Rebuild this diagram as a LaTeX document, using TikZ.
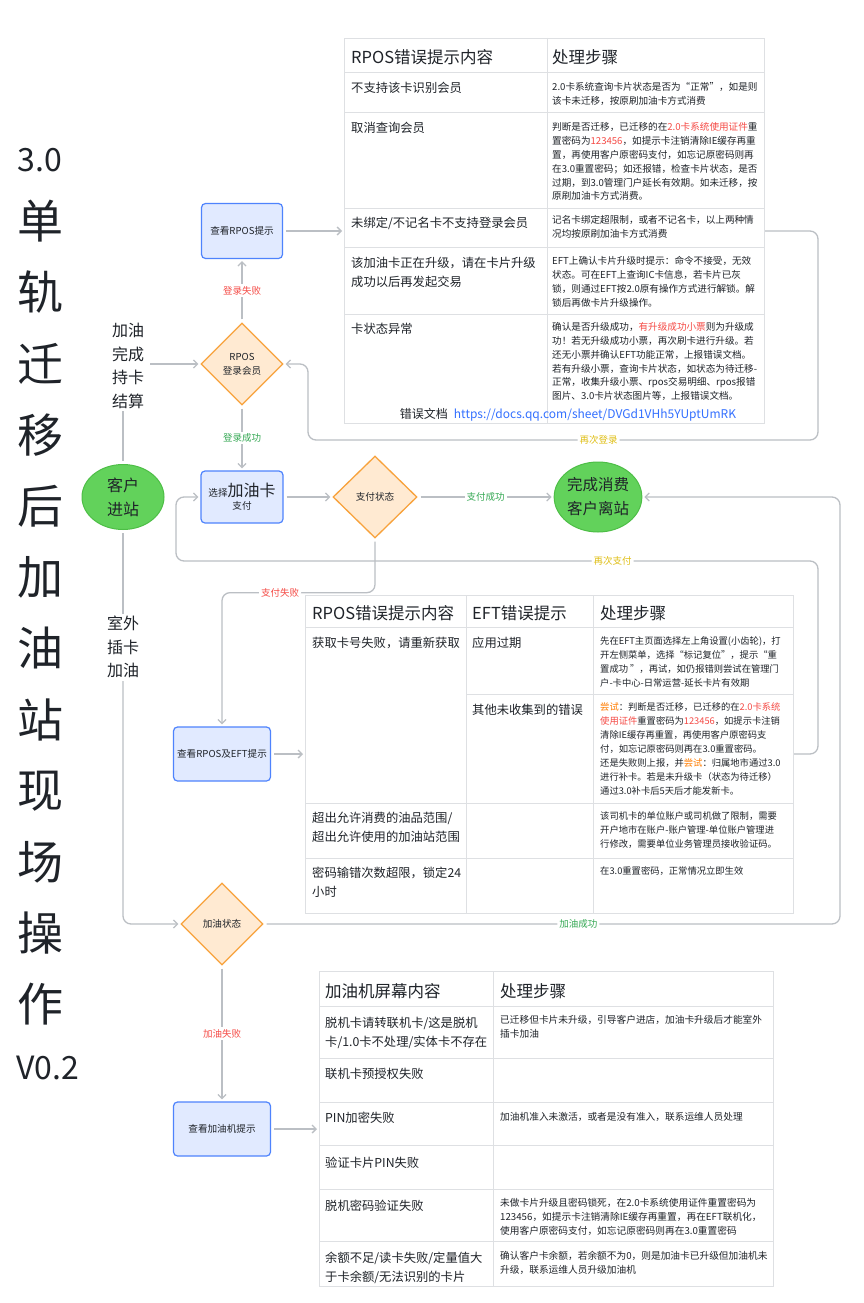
\documentclass[tikz,border=0pt]{standalone}
\usepackage{fontspec}
\setmainfont{Noto Sans CJK SC}
\usetikzlibrary{shapes.geometric,arrows.meta}

\definecolor{inkdark}{HTML}{1F2329}
\definecolor{linegray}{HTML}{BBBFC4}
\definecolor{gridgray}{HTML}{DEE0E3}
\definecolor{boxline}{HTML}{4E83FD}
\definecolor{boxfill}{HTML}{E1EAFF}
\definecolor{dialine}{HTML}{F8A23C}
\definecolor{diafill}{HTML}{FFEAD2}
\definecolor{termline}{HTML}{4DBE46}
\definecolor{termfill}{HTML}{62D25B}
\definecolor{failred}{HTML}{F54A45}
\definecolor{okgreen}{HTML}{34A853}
\definecolor{retryyellow}{HTML}{DFBE12}
\definecolor{hiorange}{HTML}{FF7D00}
\definecolor{linkblue}{HTML}{3370FF}

\newcommand\fsz[2]{\fontsize{#1}{#2}\selectfont}
\newcommand\hlred[1]{\textcolor{failred}{#1}}
\newcommand\hlorg[1]{\textcolor{hiorange}{#1}}

\begin{document}
\begin{tikzpicture}[
            x = 1pt, y = 1pt,
            > = {Straight Barb[length=4pt,width=8pt]}, % arrow head style
            flow/.style = {draw=linegray, line width=1.3pt, shorten >=2pt, shorten <=3pt},
            lbl/.style = {fill=white, inner sep=2pt, font=\fsz{9.5}{11}},
            procbox/.style = {rectangle, rounded corners=4pt, draw=boxline, fill=boxfill, line width=1.2pt,
                minimum width=81pt, minimum height=55pt, inner sep=0pt, align=center, text=inkdark, font=\fsz{9.6}{13}},
            decision/.style = {diamond, draw=dialine, fill=diafill, line width=1.3pt,
                minimum width=82pt, minimum height=82pt, inner sep=0pt, align=center, text=inkdark, font=\fsz{9.6}{14}},
            terminal/.style = {ellipse, draw=termline, fill=termfill, line width=1pt,
                minimum width=82pt, minimum height=65pt, inner sep=0pt, align=center, text=inkdark, font=\fsz{16}{24}},
            note/.style = {align=center, inner sep=0pt, text=inkdark, font=\fsz{16}{23.5}},
            titlechar/.style = {inner sep=0pt, text=inkdark, font=\fsz{46}{46}},
            tabframe/.style = {draw=gridgray, line width=1pt, anchor=north west, inner sep=0pt},
            tabgrid/.style = {draw=gridgray, line width=1pt},
            tabhead/.style = {anchor=base west, inner sep=0pt, text=inkdark, font=\fsz{16.5}{20}},
            tabkey/.style = {anchor=base west, inner sep=0pt, align=left, text=inkdark, font=\fsz{12.3}{18.5}},
            tabstep/.style = {anchor=base west, inner sep=0pt, align=left, text=inkdark, font=\fsz{9.6}{13.8}},
            multi/.style = {anchor=north west}
        ]

\fill[white] (0,0) rectangle (863,-1303);
\useasboundingbox (0,0) rectangle (863,-1303);

% title
\node[titlechar, font=\fsz{32}{32}] (ver) at (40,-160) {3.0};
\foreach \ch [count=\i] in {单,轨,迁,移,后,加,油,站,现,场,操,作}
    \node[titlechar] (t\i) at (40,{-150-71.2*\i}) {\ch};
\node[titlechar, font=\fsz{32}{32}] (rev) at (48,-1068) {V0.2};

% flow nodes
\node[note] (oilDone) at (128,-366) {加油\\完成\\持卡\\结算};
\node[terminal] (enter) at (123,-497) {客户\\进站};
\node[note] (outside) at (123,-647) {室外\\插卡\\加油};
\node[decision] (login) at (242,-364) {RPOS\\登录会员};
\node[procbox] (rposTip) at (242,-231) {查看RPOS提示};
\node[procbox, minimum width=82pt, minimum height=52pt] (payCard) at (242,-497) {选择{\fsz{16}{20}加油卡}\\支付};
\node[decision, minimum width=84pt] (payState) at (375,-497) {支付状态};
\node[terminal, minimum width=84pt, minimum height=70pt, font=\fsz{15.5}{24}] (done) at (598,-497) {完成消费\\客户离站};
\node[procbox, minimum width=97pt, minimum height=54pt] (rposEftTip) at (222,-754) {查看RPOS及EFT提示};
\node[decision] (fuelState) at (222,-924) {加油状态};
\node[procbox, minimum width=97pt, minimum height=54pt] (pumpTip) at (222,-1129) {查看加油机提示};

% table: RPOS
\node[tabframe, minimum width=420pt, minimum height=385pt] (rposTab) at (344,-38) {};
\foreach \y in {73,113,208,247,314}
    \draw[tabgrid] (344,-\y) -- (764,-\y);
\draw[tabgrid] (547,-38) -- (547,-423);
\node[tabhead] (rh1) at (351,-63.3) {RPOS错误提示内容};
\node[tabhead] (rh2) at (552,-63.3) {处理步骤};
\node[tabkey] (rk1) at (351,-92.8) {不支持该卡识别会员};
\node[tabstep, multi] (rs1) at (552,-82.5) {2.0卡系统查询卡片状态是否为“正常”，如是则\\该卡未迁移，按原刷加油卡方式消费};
\node[tabkey] (rk2) at (351,-132.8) {取消查询会员};
\node[tabstep, multi] (rs2) at (552,-122.5) {判断是否迁移，已迁移的在\hlred{2.0卡系统使用证件}重\\置密码为\hlred{123456}，如提示卡注销清除IE缓存再重\\置，再使用客户原密码支付，如忘记原密码则再\\在3.0重置密码；如还报错，检查卡片状态，是否\\过期，到3.0管理门户延长有效期。如未迁移，按\\原刷加油卡方式消费。};
\node[tabkey] (rk3) at (351,-227.8) {未绑定/不记名卡不支持登录会员};
\node[tabstep, multi] (rs3) at (552,-215.5) {记名卡绑定超限制，或者不记名卡，以上两种情\\况均按原刷加油卡方式消费};
\node[tabkey, multi] (rk4) at (351,-257.2) {该加油卡正在升级，请在卡片升级\\成功以后再发起交易};
\node[tabstep, multi] (rs4) at (552,-256.5) {EFT上确认卡片升级时提示：命令不接受，无效\\状态。可在EFT上查询IC卡信息，若卡片已灰\\锁，则通过EFT按2.0原有操作方式进行解锁。解\\锁后再做卡片升级操作。};
\node[tabkey] (rk5) at (351,-333.8) {卡状态异常};
\node[tabstep, multi] (rs5) at (552,-322.5) {确认是否升级成功，\hlred{有升级成功小票}则为升级成\\功！若无升级成功小票，再次刷卡进行升级。若\\还无小票并确认EFT功能正常，上报错误文档。\\若有升级小票，查询卡片状态，如状态为待迁移-\\正常，收集升级小票、rpos交易明细、rpos报错\\图片、3.0卡片状态图片等，上报错误文档。};
\node[inner sep=0pt, text=inkdark, font=\fsz{12}{14}] (docLink) at (568,-415) {错误文档\hspace{6pt}\textcolor{linkblue}{https://docs.qq.com/sheet/DVGd1VHh5YUptUmRK}};

% table: RPOS and EFT
\node[tabframe, minimum width=488pt, minimum height=318pt] (eftTab) at (305,-595) {};
\foreach \y in {627,803,858}
    \draw[tabgrid] (305,-\y) -- (793,-\y);
\draw[tabgrid] (466,-694) -- (793,-694);
\foreach \x in {466,593}
    \draw[tabgrid] (\x,-595) -- (\x,-913);
\node[tabhead] (eh1) at (312,-619.3) {RPOS错误提示内容};
\node[tabhead] (eh2) at (472,-619.3) {EFT错误提示};
\node[tabhead] (eh3) at (600,-619.3) {处理步骤};
\node[tabkey] (ek1) at (312,-647.8) {获取卡号失败，请重新获取};
\node[tabkey] (ee1) at (472,-647.8) {应用过期};
\node[tabstep, multi, font=\fsz{9.3}{14}] (es1) at (600,-636.6) {先在EFT主页面选择左上角设置(小齿轮)，打\\开左侧菜单，选择“标记复位”，提示“重\\置成功 ”，再试，如仍报错则尝试在管理门\\户-卡中心-日常运营-延长卡片有效期};
\node[tabkey] (ee2) at (472,-714.8) {其他未收集到的错误};
\node[tabstep, multi, font=\fsz{9.3}{14}] (es2) at (600,-702.6) {\hlorg{尝试}：判断是否迁移，已迁移的在\hlred{2.0卡系统}\\\hlred{使用证件}重置密码为\hlred{123456}，如提示卡注销\\清除IE缓存再重置，再使用客户原密码支\\付，如忘记原密码则再在3.0重置密码。\\还是失败则上报，并\hlorg{尝试}：归属地市通过3.0\\进行补卡。若是未升级卡（状态为待迁移）\\通过3.0补卡后5天后才能发新卡。};
\node[tabkey, multi] (ek3) at (312,-812.2) {超出允许消费的油品范围/\\超出允许使用的加油站范围};
\node[tabstep, multi, font=\fsz{9.3}{14}] (es3) at (600,-811.6) {该司机卡的单位账户或司机做了限制，需要\\开户地市在账户-账户管理-单位账户管理进\\行修改，需要单位业务管理员接收验证码。};
\node[tabkey, multi] (ek4) at (312,-867.2) {密码输错次数超限，锁定24\\小时};
\node[tabstep, font=\fsz{9.3}{14}] (es4) at (600,-874.6) {在3.0重置密码，正常情况立即生效};

% table: pump screen
\node[tabframe, minimum width=454pt, minimum height=315pt] (pumpTab) at (319,-971) {};
\foreach \y in {1006,1058,1102,1145,1189,1241}
    \draw[tabgrid] (319,-\y) -- (773,-\y);
\draw[tabgrid] (493,-971) -- (493,-1286);
\node[tabhead] (ph1) at (325,-997.3) {加油机屏幕内容};
\node[tabhead] (ph2) at (500,-997.3) {处理步骤};
\node[tabkey, multi] (pk1) at (325,-1017.2) {脱机卡请转联机卡/这是脱机\\卡/1.0卡不处理/实体卡不存在};
\node[tabstep, multi, font=\fsz{9.7}{14}] (ps1) at (500,-1015.4) {已迁移但卡片未升级，引导客户进店，加油卡升级后才能室外\\插卡加油};
\node[tabkey] (pk2) at (325,-1078.8) {联机卡预授权失败};
\node[tabkey] (pk3) at (325,-1122.8) {PIN加密失败};
\node[tabstep, font=\fsz{9.7}{14}] (ps3) at (500,-1120.6) {加油机准入未激活，或者是没有准入，联系运维人员处理};
\node[tabkey] (pk4) at (325,-1167.8) {验证卡片PIN失败};
\node[tabkey] (pk5) at (325,-1210.8) {脱机密码验证失败};
\node[tabstep, multi, font=\fsz{9.7}{14}] (ps5) at (500,-1198.4) {未做卡片升级且密码锁死，在2.0卡系统使用证件重置密码为\\123456，如提示卡注销清除IE缓存再重置，再在EFT联机化，\\使用客户原密码支付，如忘记原密码则再在3.0重置密码};
\node[tabkey, multi] (pk6) at (325,-1252.2) {余额不足/读卡失败/定量值大\\于卡余额/无法识别的卡片};
\node[tabstep, multi, font=\fsz{9.7}{14}] (ps6) at (500,-1251.4) {确认客户卡余额，若余额不为0，则是加油卡已升级但加油机未\\升级，联系运维人员升级加油机};

% connectors
\coordinate (reloginA) at (818,-440);
\coordinate (reloginB) at (308,-440);
\coordinate (repayA) at (818,-561);
\coordinate (repayB) at (176,-561);
\coordinate (fuelOkTurn) at (840,-497);

\draw[flow] (enter.north) -- (enter.north |- oilDone.south);
\draw[flow, ->, shorten <=6pt] (oilDone.east |- login.west) -- (login.west);
\draw[flow] (enter.south) -- (outside.north);
\draw[flow, ->, rounded corners=8pt] (outside.south) |- (fuelState.west);
\draw[flow, ->] (login.north) -- node[lbl, text=failred] {登录失败} (rposTip.south);
\draw[flow, ->] (login.south) -- node[lbl, text=okgreen] {登录成功} (payCard.north);
\draw[flow, ->] (rposTip.east) -- (rposTip.east -| rposTab.west);
\draw[flow, ->, shorten <=0pt, rounded corners=8pt] (rposTab.east |- rposTip.east) -| (reloginA)
    -- node[lbl, text=retryyellow, pos=0.43] {再次登录} (reloginB) |- (login.east);
\draw[flow, ->] (payCard.east) -- (payState.west);
\draw[flow, ->] (payState.east) -- node[lbl, text=okgreen] {支付成功} (done.west);
\draw[flow, ->, rounded corners=8pt] (payState.south) -- ++(0,-54)
    -| node[lbl, text=failred, pos=0.31] {支付失败} (rposEftTip.north);
\draw[flow, ->] (rposEftTip.east) -- (rposEftTip.east -| eftTab.west);
\draw[flow, ->, shorten <=0pt, rounded corners=8pt] (eftTab.east |- rposEftTip.east) -| (repayA)
    -- node[lbl, text=retryyellow, pos=0.32] {再次支付} (repayB) |- (payCard.west);
\draw[flow, ->, rounded corners=8pt] (fuelState.east) -- node[lbl, text=okgreen, pos=0.546] {加油成功} (fuelState.east -| fuelOkTurn)
    -- (fuelOkTurn) -- (done.east);
\draw[flow, ->] (fuelState.south) -- node[lbl, text=failred] {加油失败} (pumpTip.north);
\draw[flow, ->] (pumpTip.east) -- (pumpTip.east -| pumpTab.west);
\end{tikzpicture}
\end{document}
